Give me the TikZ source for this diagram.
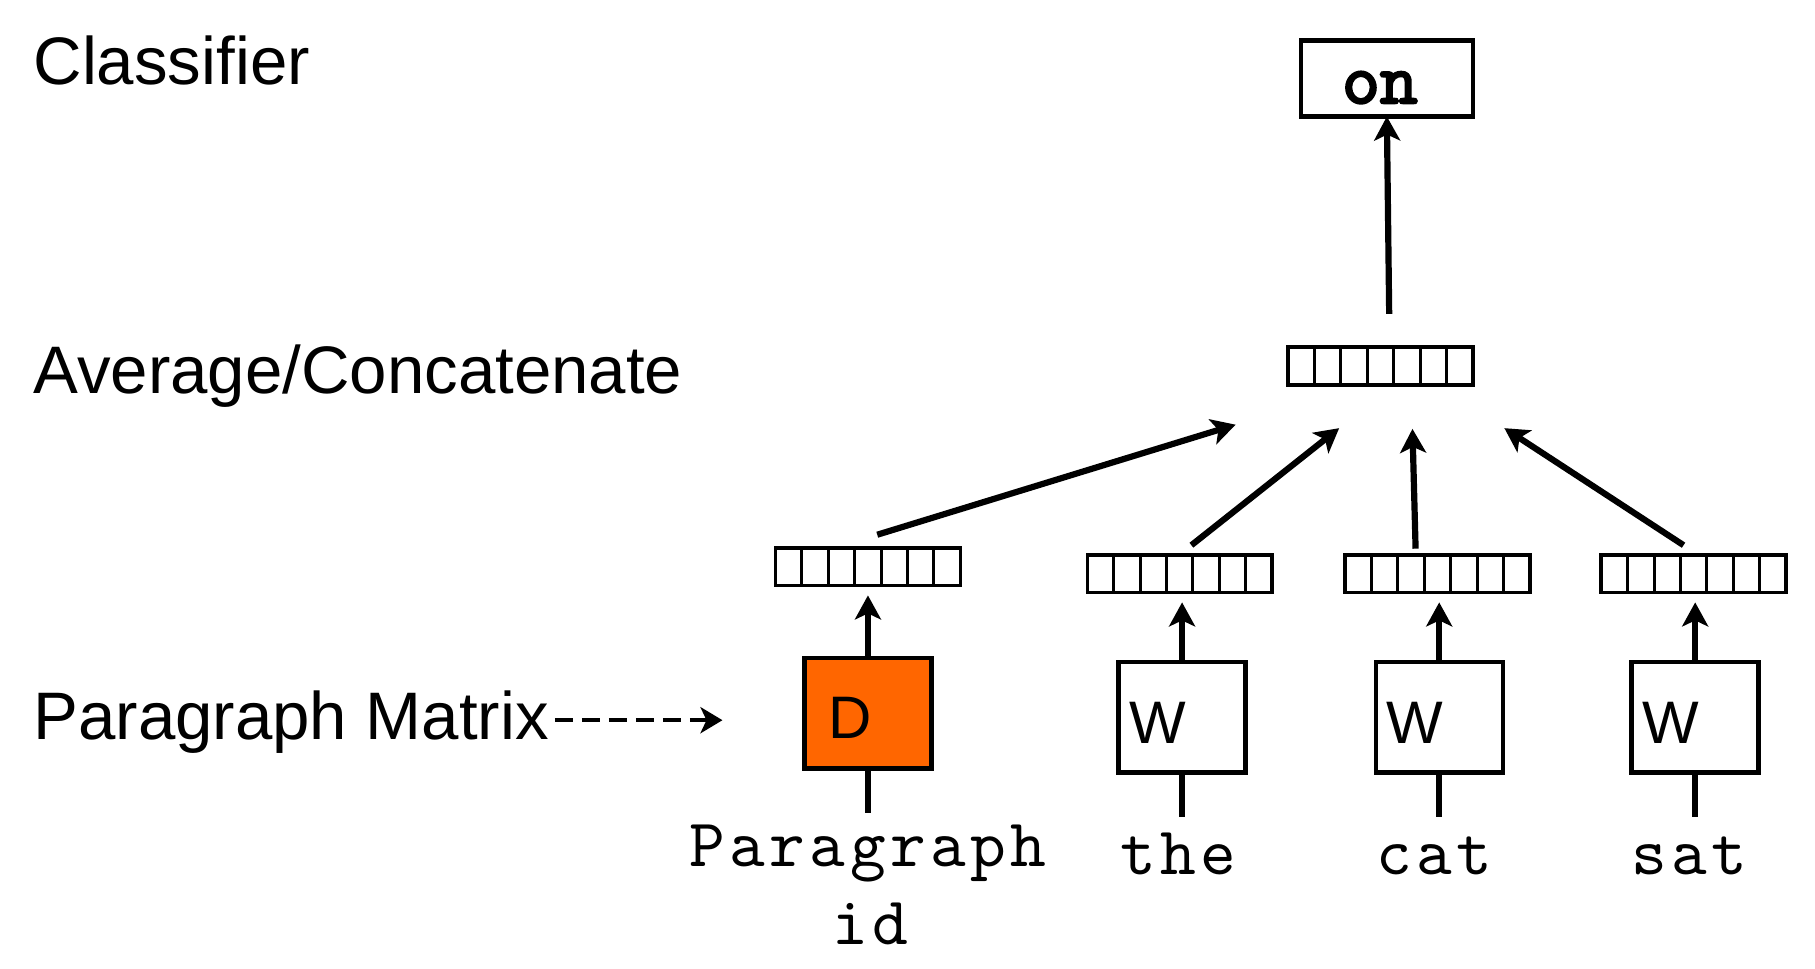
\documentclass[tikz,border=0pt]{standalone}
\usepackage{fontspec}
\setmainfont{Liberation Sans}
\newfontfamily\monofont{lmmono10-regular.otf}[LetterSpace=6.5]
\newfontfamily\monoboldfont{lmmono10-regular.otf}[FakeBold=3]
\usetikzlibrary{arrows.meta,calc}
\definecolor{dorange}{HTML}{FF6600}
\begin{document}
\begin{tikzpicture}[x=0.58173pt,y=-0.58173pt,
  every node/.style={inner sep=0pt, outer sep=0pt},
  lbl/.style={anchor=base west, font=\fontsize{33.6}{40}\selectfont},
  wrd/.style={anchor=base, font=\monofont\fontsize{34}{40}\selectfont},
  vec/.style={draw, line width=1.8pt, minimum width=92.4pt, minimum height=18.8pt},
  mat/.style={draw, line width=2.2pt, minimum width=63.5pt, minimum height=55.4pt},
  letr/.style={anchor=base west, font=\fontsize{30}{36}\selectfont},
  arr/.style={line width=3.1pt, -{Stealth[length=12pt,width=13pt,inset=3pt]}},
  ln/.style={line width=3.1pt},
  dasharr/.style={line width=2pt, dash pattern=on 9pt off 4.5pt, -{Stealth[length=11pt,width=13pt,inset=3pt]}}
]
\useasboundingbox (0,0) rectangle (1560,832);

% left labels
\node[lbl] (cls) at (28.8,73) {Classifier};
\node[lbl] (avg) at (28.8,338) {Average/Concatenate};
\node[lbl] (pm) at (28.8,636) {Paragraph Matrix};

% classifier output
\node[draw, line width=2.2pt, minimum width=86pt, minimum height=38pt] (on) at (1192,67.5) {};
\node[anchor=base, font=\monoboldfont\fontsize{36}{40}\selectfont] (ontxt) at (1186,88.7) {on};

% vectors
\node[vec] (tv) at (1186.5,314.5) {};
\node[vec] (vD) at (746,487) {};
\node[vec] (v1) at (1014,493) {};
\node[vec] (v2) at (1235.5,493) {};
\node[vec] (v3) at (1455.7,493) {};
\foreach \v in {tv,vD,v1,v2,v3}
  \foreach \i in {1,...,6}
    \draw[line width=1.5pt] ($(\v.north west)!\i/7!(\v.north east)$) -- ($(\v.south west)!\i/7!(\v.south east)$);

% matrices
\node[mat, fill=dorange] (bD) at (746,613) {};
\node[mat] (b1) at (1016,616.5) {};
\node[mat] (b2) at (1237,616.5) {};
\node[mat] (b3) at (1457,616.5) {};
\node[letr] (lD) at (712,634.5) {D};
\node[letr] (l1) at (971,638.8) {W};
\node[letr] (l2) at (1192,638.8) {W};
\node[letr] (l3) at (1412,638.8) {W};

% input words
\node[wrd] (wP) at (746,745) {Paragraph};
\node[wrd] (wid) at (748,812) {id};
\node[wrd] (w1) at (1013,752) {the};
\node[wrd] (w2) at (1233,752) {cat};
\node[wrd] (w3) at (1452,752) {sat};

% input lines
\coordinate (cD) at (746,699);
\coordinate (c1) at (1016,702);
\coordinate (c2) at (1237,702);
\coordinate (c3) at (1457,702);
\draw[ln] (bD.south) -- (cD);
\draw[ln] (b1.south) -- (c1);
\draw[ln] (b2.south) -- (c2);
\draw[ln] (b3.south) -- (c3);

% matrix -> vector
\draw[arr, shorten >=5pt] (bD.north) -- (bD.north |- vD.south);
\draw[arr, shorten >=5pt] (b1.north) -- (b1.north |- v1.south);
\draw[arr, shorten >=5pt] (b2.north) -- (b2.north |- v2.south);
\draw[arr, shorten >=5pt] (b3.north) -- (b3.north |- v3.south);

% vectors -> average
\coordinate (sA) at ($(vD.north)+(8,-11.25)$);
\coordinate (sB) at ($(v1.north)+(10,-8.25)$);
\coordinate (sC) at ($(v2.north)+(-18.8,-5.25)$);
\coordinate (sD) at ($(v3.north)+(-8.7,-8.25)$);
\coordinate (tA) at (1062,365);
\coordinate (tB) at (1151,368);
\coordinate (tC) at (1214,368.6);
\coordinate (tD) at (1293,368);
\draw[arr] (sA) -- (tA);
\draw[arr] (sB) -- (tB);
\draw[arr] (sC) -- (tC);
\draw[arr] (sD) -- (tD);

% average -> classifier
\coordinate (sOn) at ($(tv.north)+(7.5,-28.5)$);
\draw[arr] (sOn) -- (on.south);

% paragraph matrix dashed arrow
\coordinate (pmS) at ($(pm.base east)+(5,-17)$);
\coordinate (pmT) at (621,619);
\draw[dasharr] (pmS) -- (pmT);
\end{tikzpicture}
\end{document}
